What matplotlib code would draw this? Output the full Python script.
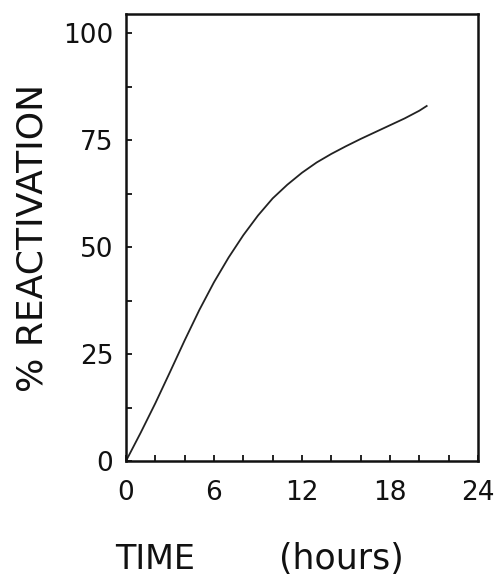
import matplotlib.pyplot as plt
import numpy as np
from matplotlib.ticker import MultipleLocator

# reactivation time course
hours = [0, 1, 2, 3, 4, 5, 6, 7, 8, 9, 10, 11, 12, 13, 14, 15, 16, 17, 18, 19, 20, 20.5]
reactivation = [0, 6.6, 13.5, 20.8, 28.2, 35.3, 41.8, 47.6, 52.8, 57.4, 61.4, 64.6, 67.4,
                69.8, 71.8, 73.6, 75.3, 76.9, 78.5, 80.1, 81.9, 83.0]

x_ticks = [0, 6, 12, 18, 24]
y_ticks = [0, 25, 50, 75, 100]

plt.rcParams['font.family'] = ['DejaVu Sans']

fig = plt.figure(figsize=(4.95, 5.77), dpi=100)
ax = fig.add_axes([0.2545, 0.201, 0.7112, 0.7747])

ax.plot(hours, reactivation, color='#222222', linewidth=1.3)

ax.set_xlim(0, 24)
ax.set_ylim(0, 104.5)
ax.set_xticks(x_ticks)
ax.set_yticks(y_ticks)
ax.xaxis.set_minor_locator(MultipleLocator(2))
ax.yaxis.set_minor_locator(MultipleLocator(12.5))
ax.tick_params(which='both', direction='in', length=4.5, width=1.3,
               labelsize=19, colors='#111111')
ax.tick_params(axis='x', pad=14)
ax.tick_params(axis='y', pad=9)

for side in ['left', 'bottom', 'top', 'right']:
    ax.spines[side].set_linewidth(1.8)
    ax.spines[side].set_color('#111111')

ax.set_ylabel('% REACTIVATION', fontsize=26, labelpad=10, color='#111111')
fig.text(115 / 495, 1 - 576 / 577, 'TIME', fontsize=24, color='#111111',
         ha='left', va='bottom')
fig.text(279 / 495, 1 - 576 / 577, '(hours)', fontsize=25, color='#111111',
         ha='left', va='bottom')

fig.savefig('out.png', dpi=100)
